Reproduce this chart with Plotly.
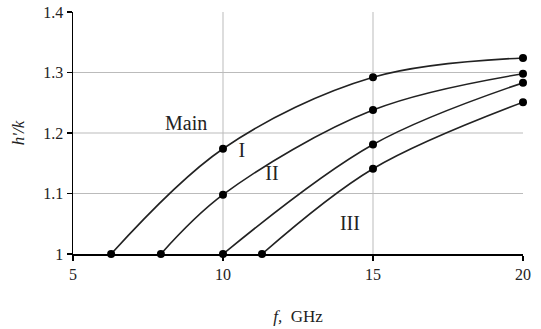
import plotly.graph_objects as go

# Data
main_x = [6.27, 10, 15, 20]
main_y = [1.0, 1.174, 1.292, 1.324]
c1_x = [7.93, 10, 15, 20]
c1_y = [1.0, 1.098, 1.238, 1.298]
c2_x = [10, 15, 20]
c2_y = [1.0, 1.181, 1.283]
c3_x = [11.3, 15, 20]
c3_y = [1.0, 1.141, 1.251]

label_text = ["Main", "I", "II", "III"]
label_x = [8.77, 10.63, 11.63, 14.23]
label_y = [1.213, 1.169, 1.131, 1.048]

x_ticks = [5, 10, 15, 20]
y_ticks = [1, 1.1, 1.2, 1.3, 1.4]
y_ticktext = ["1", "1.1", "1.2", "1.3", "1.4"]
grid_x = [10, 15]
grid_y = [1.1, 1.2, 1.3]

FONT = "Liberation Serif"

fig = go.Figure()
for xs, ys in [(main_x, main_y), (c1_x, c1_y), (c2_x, c2_y), (c3_x, c3_y)]:
    fig.add_trace(go.Scatter(
        x=xs, y=ys, mode="lines+markers",
        line=dict(color="#222222", width=1.6, shape="spline", smoothing=1.0),
        marker=dict(color="black", size=8),
        showlegend=False, cliponaxis=False,
    ))

fig.add_trace(go.Scatter(
    x=label_x, y=label_y, mode="text", text=label_text,
    textfont=dict(family=FONT, size=20, color="#222222"),
    showlegend=False,
))

shapes = []
for gx in grid_x:
    shapes.append(dict(type="line", xref="x", yref="y", x0=gx, x1=gx, y0=1, y1=1.4,
                       line=dict(color="#bbbbbb", width=1), layer="below"))
for gy in grid_y:
    shapes.append(dict(type="line", xref="x", yref="y", x0=5, x1=20, y0=gy, y1=gy,
                       line=dict(color="#bbbbbb", width=1), layer="below"))

fig.update_layout(
    width=541, height=329,
    margin=dict(l=73, r=18, t=12, b=75),
    paper_bgcolor="white", plot_bgcolor="white",
    font=dict(family=FONT, size=16, color="#222222"),
    shapes=shapes,
    xaxis=dict(
        range=[5, 20], tickvals=x_ticks, showgrid=False, zeroline=False, automargin=False,
        showline=True, linecolor="black", linewidth=1.5,
        ticks="outside", ticklen=5, tickcolor="black", tickwidth=1.5,
        tickfont=dict(family=FONT, size=16),
        title=dict(text="<i>f,</i>&nbsp;&nbsp;GHz", font=dict(family=FONT, size=17), standoff=28),
    ),
    yaxis=dict(
        range=[1, 1.4], tickvals=y_ticks, ticktext=y_ticktext, showgrid=False, zeroline=False,
        automargin=False,
        showline=True, linecolor="black", linewidth=1.5,
        ticks="outside", ticklen=5, tickcolor="black", tickwidth=1.5,
        tickfont=dict(family=FONT, size=16),
        title=dict(text="<i>h'/k</i>", font=dict(family=FONT, size=17), standoff=14),
    ),
)

fig.write_html(
    "out.html",
    config={"displayModeBar": False, "staticPlot": True},
    post_script="document.body.style.margin='0';document.body.style.overflow='hidden';",
)
